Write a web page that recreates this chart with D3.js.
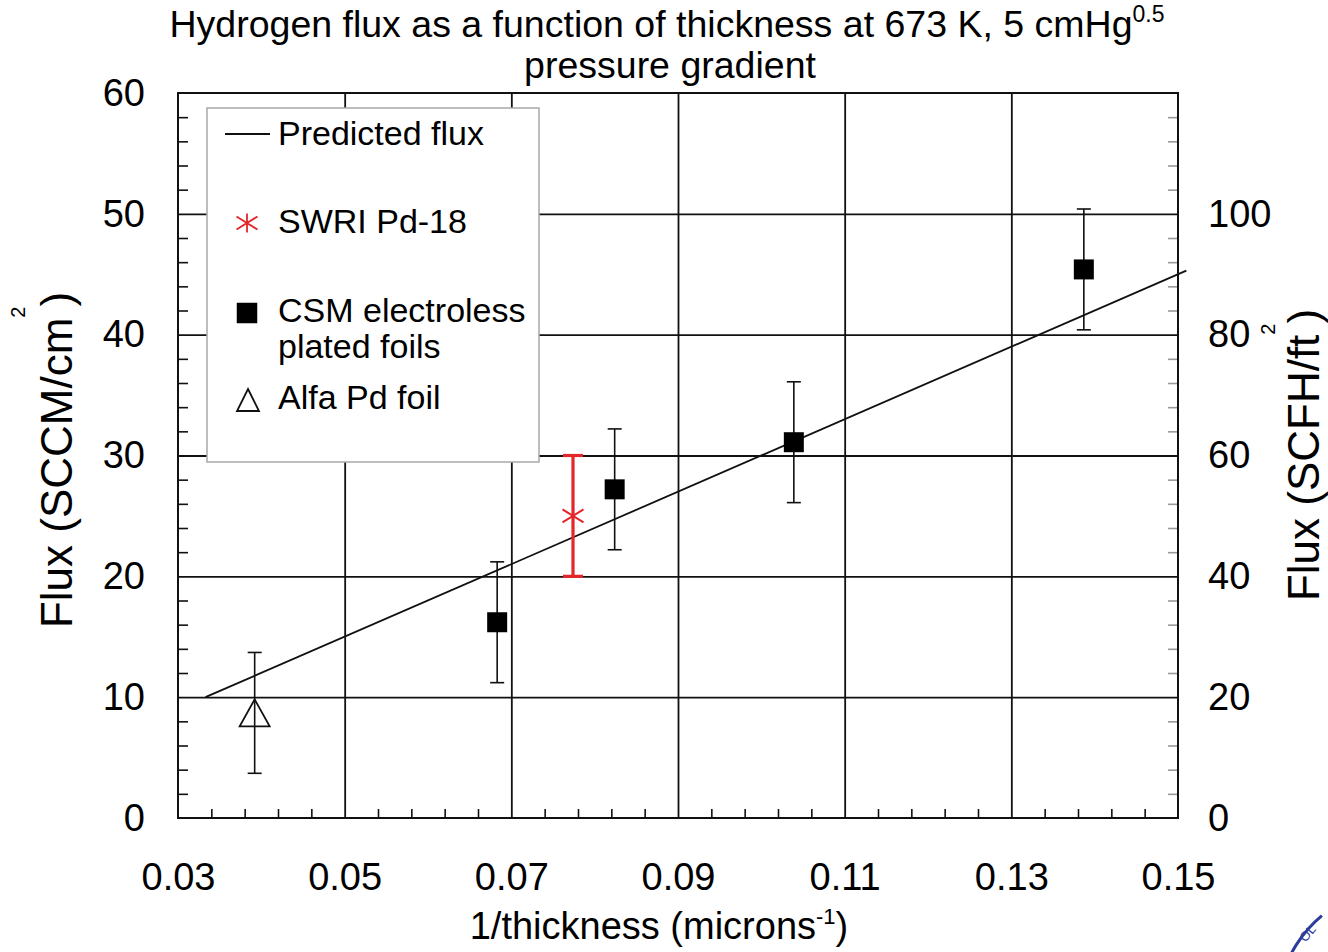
<!DOCTYPE html>
<html>
<head>
<meta charset="utf-8">
<script src="https://cdn.jsdelivr.net/npm/d3@7"></script>
<style>
  html, body { margin: 0; padding: 0; background: #fff; }
  svg { display: block; font-family: "Liberation Sans", Arial, sans-serif; }
</style>
</head>
<body>
<svg id="chart" width="1328" height="952"></svg>
<script>
// ---- data ----
const xDomain = [0.03, 0.15];
const yDomain = [0, 60];
const yRightDomain = [0, 120];
const xTickValues = [0.03, 0.05, 0.07, 0.09, 0.11, 0.13, 0.15];
const xGridValues = [0.05, 0.07, 0.09, 0.11, 0.13];
const yTickValues = [0, 10, 20, 30, 40, 50, 60];
const yGridValues = [10, 20, 30, 40, 50];
const yRightTickValues = [0, 20, 40, 60, 80, 100];

const predictedX = [0.0333, 0.151];
const predictedY = [10.0, 45.3];

const csmX = [0.0683, 0.0824, 0.1039, 0.1387];
const csmY = [16.2, 27.2, 31.1, 45.4];
const csmErr = [5, 5, 5, 5];

const swriX = [0.0774];
const swriY = [25.0];
const swriErr = [5];

const alfaX = [0.0392];
const alfaY = [8.7];
const alfaErr = [5];

const legendLabels = ["Predicted flux", "SWRI Pd-18", "CSM electroless", "plated foils", "Alfa Pd foil"];

// ---- layout ----
const svg = d3.select("#chart");
const L = 178, R = 1178, T = 93, B = 818;
const x = d3.scaleLinear().domain(xDomain).range([L, R]);
const y = d3.scaleLinear().domain(yDomain).range([B, T]);
const yR = d3.scaleLinear().domain(yRightDomain).range([B, T]);
const FONT = "'Liberation Sans', Arial, sans-serif";
const RED = "#e3262a";

function clean(g) { g.select(".domain").remove(); }

// minor tick positions (axis decoration)
const xMinor = d3.range(0, 31).map(i => +(0.03 + i * 0.004).toFixed(4))
  .filter(v => v > 0.03 && v < 0.15 && xTickValues.every(t => Math.abs(t - v) > 1e-6));
const yMinor = d3.range(0, 31).map(i => i * 2).filter(v => v % 10 !== 0);
const yRMinor = yMinor.map(v => v * 2);

// gridlines
svg.append("g").attr("transform", `translate(0,${B})`)
  .call(d3.axisBottom(x).tickValues(xGridValues).tickSize(-(B - T)).tickFormat(""))
  .call(clean)
  .selectAll("line").attr("stroke", "#111").attr("stroke-width", 1.8);
svg.append("g").attr("transform", `translate(${L},0)`)
  .call(d3.axisLeft(y).tickValues(yGridValues).tickSize(-(R - L)).tickFormat(""))
  .call(clean)
  .selectAll("line").attr("stroke", "#111").attr("stroke-width", 1.8);

// minor ticks
svg.append("g").attr("transform", `translate(0,${B})`)
  .call(d3.axisBottom(x).tickValues(xMinor).tickSize(-9).tickFormat(""))
  .call(clean)
  .selectAll("line").attr("stroke", "#111").attr("stroke-width", 1.6);
svg.append("g").attr("transform", `translate(${L},0)`)
  .call(d3.axisLeft(y).tickValues(yMinor).tickSize(-10).tickFormat(""))
  .call(clean)
  .selectAll("line").attr("stroke", "#111").attr("stroke-width", 1.6);
svg.append("g").attr("transform", `translate(${R},0)`)
  .call(d3.axisRight(yR).tickValues(yRMinor).tickSize(-10).tickFormat(""))
  .call(clean)
  .selectAll("line").attr("stroke", "#999").attr("stroke-width", 1.6);

// frame
svg.append("rect").attr("x", L).attr("y", T).attr("width", R - L).attr("height", B - T)
  .attr("fill", "none").attr("stroke", "#111").attr("stroke-width", 2);

// tick labels
const lab = (g) => g.selectAll("text").attr("font-size", 38).attr("font-family", FONT).attr("fill", "#000");
svg.append("g").attr("transform", `translate(0,${B})`)
  .call(d3.axisBottom(x).tickValues(xTickValues).tickSize(0).tickPadding(45).tickFormat(d3.format(".2f")))
  .call(clean).call(lab);
svg.append("g").attr("transform", `translate(${L},0)`)
  .call(d3.axisLeft(y).tickValues(yTickValues).tickSize(0).tickPadding(33).tickFormat(d3.format("d")))
  .call(clean).call(lab);
svg.append("g").attr("transform", `translate(${R},0)`)
  .call(d3.axisRight(yR).tickValues(yRightTickValues).tickSize(0).tickPadding(30).tickFormat(d3.format("d")))
  .call(clean).call(lab);

// legend box (drawn over grid)
const lg = svg.append("g");
lg.append("rect").attr("x", 207).attr("y", 108).attr("width", 332).attr("height", 354)
  .attr("fill", "#fff").attr("stroke", "#a8a8a8").attr("stroke-width", 1.5);

// predicted line
svg.append("path")
  .datum(predictedX.map((v, i) => [v, predictedY[i]]))
  .attr("d", d3.line().x(d => x(d[0])).y(d => y(d[1])))
  .attr("fill", "none").attr("stroke", "#111").attr("stroke-width", 1.8);

// error bars helper
function errorBars(xs, ys, es, color, width, cap) {
  const g = svg.append("g").attr("stroke", color).attr("stroke-width", width).attr("fill", "none");
  xs.forEach((xv, i) => {
    const top = y(ys[i] + es[i]), bot = y(ys[i] - es[i]), cx = x(xv);
    g.append("line").attr("x1", cx).attr("x2", cx).attr("y1", top).attr("y2", bot);
    g.append("line").attr("x1", cx - cap).attr("x2", cx + cap).attr("y1", top).attr("y2", top);
    g.append("line").attr("x1", cx - cap).attr("x2", cx + cap).attr("y1", bot).attr("y2", bot);
  });
}
errorBars(alfaX, alfaY, alfaErr, "#111", 1.6, 7);
errorBars(csmX, csmY, csmErr, "#111", 1.6, 7);
errorBars(swriX, swriY, swriErr, RED, 3.2, 10);

// marker shapes
const tri = (w, h) => `M0,${-h / 2}L${w / 2},${h / 2}L${-w / 2},${h / 2}Z`;
const star = (v, dx, dy) => `M0,${-v}L0,${v}M${-dx},${-dy}L${dx},${dy}M${-dx},${dy}L${dx},${-dy}`;

svg.append("g").selectAll("path").data(alfaX).join("path")
  .attr("transform", (d, i) => `translate(${x(d)},${y(alfaY[i])})`)
  .attr("d", tri(30, 27)).attr("fill", "none").attr("stroke", "#111").attr("stroke-width", 1.8);
svg.append("g").selectAll("path").data(csmX).join("path")
  .attr("transform", (d, i) => `translate(${x(d)},${y(csmY[i])})`)
  .attr("d", d3.symbol(d3.symbolSquare, 400)()).attr("fill", "#000");
svg.append("g").selectAll("path").data(swriX).join("path")
  .attr("transform", (d, i) => `translate(${x(d)},${y(swriY[i])})`)
  .attr("d", star(10, 10.5, 6.5)).attr("fill", "none").attr("stroke", RED).attr("stroke-width", 2);

// legend content
lg.append("line").attr("x1", 225).attr("x2", 270).attr("y1", 134).attr("y2", 134)
  .attr("stroke", "#111").attr("stroke-width", 1.8);
lg.append("path").attr("transform", "translate(247,223)")
  .attr("d", star(9.5, 10.5, 6.5)).attr("fill", "none").attr("stroke", RED).attr("stroke-width", 1.8);
lg.append("path").attr("transform", "translate(247,313)")
  .attr("d", d3.symbol(d3.symbolSquare, 420)()).attr("fill", "#000");
lg.append("path").attr("transform", "translate(248,400)")
  .attr("d", tri(22, 22)).attr("fill", "none").attr("stroke", "#111").attr("stroke-width", 1.8);
const legendY = [145, 233, 322, 358, 409];
lg.selectAll("text.leg").data(legendLabels).join("text").attr("class", "leg")
  .attr("x", 278).attr("y", (d, i) => legendY[i])
  .attr("font-size", 34).attr("font-family", FONT).attr("fill", "#000").text(d => d);

// title
const t1 = svg.append("text").attr("x", 667).attr("y", 37).attr("text-anchor", "middle")
  .attr("font-size", 37.5).attr("font-family", FONT).attr("fill", "#000");
t1.append("tspan").text("Hydrogen flux as a function of thickness at 673 K, 5 cmHg");
t1.append("tspan").attr("font-size", 23).attr("dy", -15).text("0.5");
svg.append("text").attr("x", 670).attr("y", 78).attr("text-anchor", "middle")
  .attr("font-size", 37.5).attr("font-family", FONT).attr("fill", "#000").text("pressure gradient");

// x axis label
const xl = svg.append("text").attr("x", 659).attr("y", 939).attr("text-anchor", "middle")
  .attr("font-size", 38).attr("font-family", FONT).attr("fill", "#000");
xl.append("tspan").text("1/thickness (microns");
xl.append("tspan").attr("font-size", 22).attr("dy", -15).text("-1");
xl.append("tspan").attr("dy", 15).text(")");

// left y label
const yl = svg.append("text").attr("transform", "translate(72,460) rotate(-90)").attr("text-anchor", "middle")
  .attr("font-size", 44).attr("font-family", FONT).attr("fill", "#000");
yl.append("tspan").text("Flux (SCCM/cm");
yl.append("tspan").attr("font-size", 20).attr("dy", -47).text("2");
yl.append("tspan").attr("dy", 47).text(")");

// right y label
const yr = svg.append("text").attr("transform", "translate(1319,455) rotate(-90)").attr("text-anchor", "middle")
  .attr("font-size", 44).attr("font-family", FONT).attr("fill", "#000");
yr.append("tspan").text("Flux (SCFH/ft");
yr.append("tspan").attr("font-size", 20).attr("dy", -44).text("2");
yr.append("tspan").attr("dy", 44).text(")");

// partial logo in bottom-right corner
const logo = svg.append("g").attr("transform", "translate(1400,1010)");
logo.append("path").attr("d", d3.arc().innerRadius(121).outerRadius(124).startAngle(-Math.PI * 0.62).endAngle(-Math.PI * 0.22)())
  .attr("fill", "#2b3c9c");
svg.append("text").attr("transform", "translate(1311,936) rotate(-50)").attr("text-anchor", "middle")
  .attr("font-size", 13).attr("font-family", FONT).attr("fill", "#2b3c9c").text("OL");
</script>
</body>
</html>
